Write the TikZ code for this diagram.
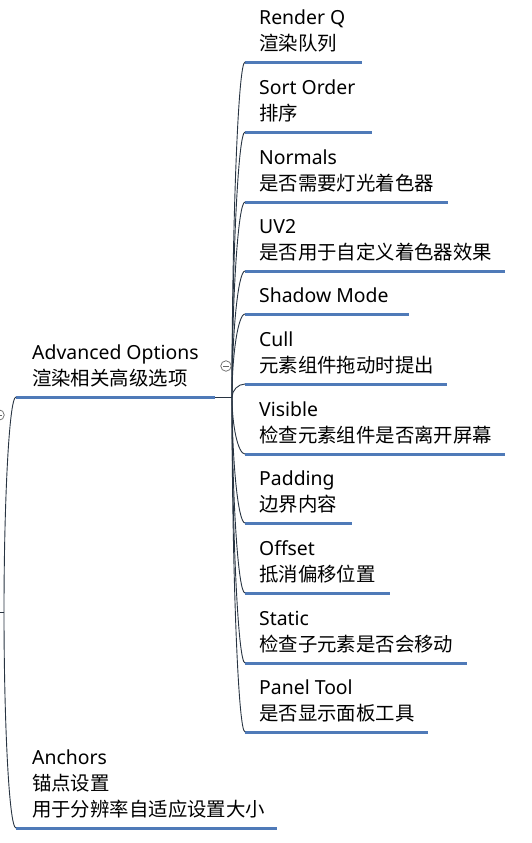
\documentclass[tikz,border=0pt]{standalone}
\usepackage{fontspec}
\setmainfont{Noto Sans}
\newfontfamily\cjk{Noto Sans CJK SC}
\usetikzlibrary{calc}
\definecolor{ulblue}{RGB}{79,122,184}
\definecolor{linkc}{RGB}{40,52,66}
\newcommand{\lines}[1]{\begin{tabular}[b]{@{}l@{}}#1\end{tabular}}
\begin{document}
\begin{tikzpicture}[x=1bp,y=-1bp,
  lbl/.style={anchor=base west,inner sep=0pt,font=\fontsize{19.4bp}{26bp}\selectfont},
  uline/.style={draw=ulblue,line width=3bp},
  link/.style={draw=linkc,line width=0.9bp},
  fold/.style={circle,draw=gray!80!black,line width=0.7bp,minimum size=10.5bp,inner sep=0pt,fill=white}]
\useasboundingbox (0,0) rectangle (532,843);
% root point
\coordinate (R) at (4,612);
\coordinate (R0) at (0,612);
\draw[link] (R0) -- (R);
% Advanced Options
\coordinate (AOs) at (16,397);
\coordinate (AOe) at (215,397);
\coordinate (B) at (232,397);
\node[lbl] (AO) at (32,385) {\lines{Advanced Options\\\cjk 渲染相关高级选项}};
\draw[uline] (AOs) -- (AOe);
\draw[link] (AOe) -- (B);
% Anchors
\coordinate (ANs) at (16,828);
\coordinate (ANe) at (277,828);
\node[lbl] (AN) at (32,816) {\lines{Anchors\\\cjk 锚点设置\\\cjk 用于分辨率自适应设置大小}};
\draw[uline] (ANs) -- (ANe);
% root links
\draw[link] (R) .. controls ($(R)!0.5!(R|-AOs)$) and ($(AOs)+(-7,0)$) .. (AOs);
\draw[link] (R) .. controls ($(R)!0.5!(R|-ANs)$) and ($(ANs)+(-7,0)$) .. (ANs);
% children
\foreach \nm/\yy/\xe/\txt in {
  rq/62/362/{Render Q\\\cjk 渲染队列},
  so/132/372/{Sort Order\\\cjk 排序},
  nm/202/448/{Normals\\\cjk 是否需要灯光着色器},
  uv/271/505/{UV2\\\cjk 是否用于自定义着色器效果},
  sm/314/409/{Shadow Mode},
  cu/384/447/{Cull\\\cjk 元素组件拖动时提出},
  vi/454/505/{Visible\\\cjk 检查元素组件是否离开屏幕},
  pa/523/352/{Padding\\\cjk 边界内容},
  of/593/390/{Offset\\\cjk 抵消偏移位置},
  st/663/467/{Static\\\cjk 检查子元素是否会移动},
  pt/732/428/{Panel Tool\\\cjk 是否显示面板工具}} {
  \coordinate (\nm s) at (245,\yy);
  \coordinate (\nm e) at (\xe,\yy);
  \node[lbl] (\nm) at (259,\yy-12) {\lines{\txt}};
  \draw[uline] (\nm s) -- (\nm e);
  \draw[link] (B) .. controls ($(B)!0.5!(B|-\nm s)$) and ($(\nm s)+(-7,0)$) .. (\nm s);
}
% fold markers
\node[fold] (f1) at (226,366) {};
\draw[gray!80!black,line width=0.7bp] ($(f1)+(-2.8,0)$) -- ($(f1)+(2.8,0)$);
\node[fold] (f2) at (-1,415) {};
\draw[gray!80!black,line width=0.7bp] ($(f2)+(-2.8,0)$) -- ($(f2)+(2.8,0)$);
\end{tikzpicture}
\end{document}
